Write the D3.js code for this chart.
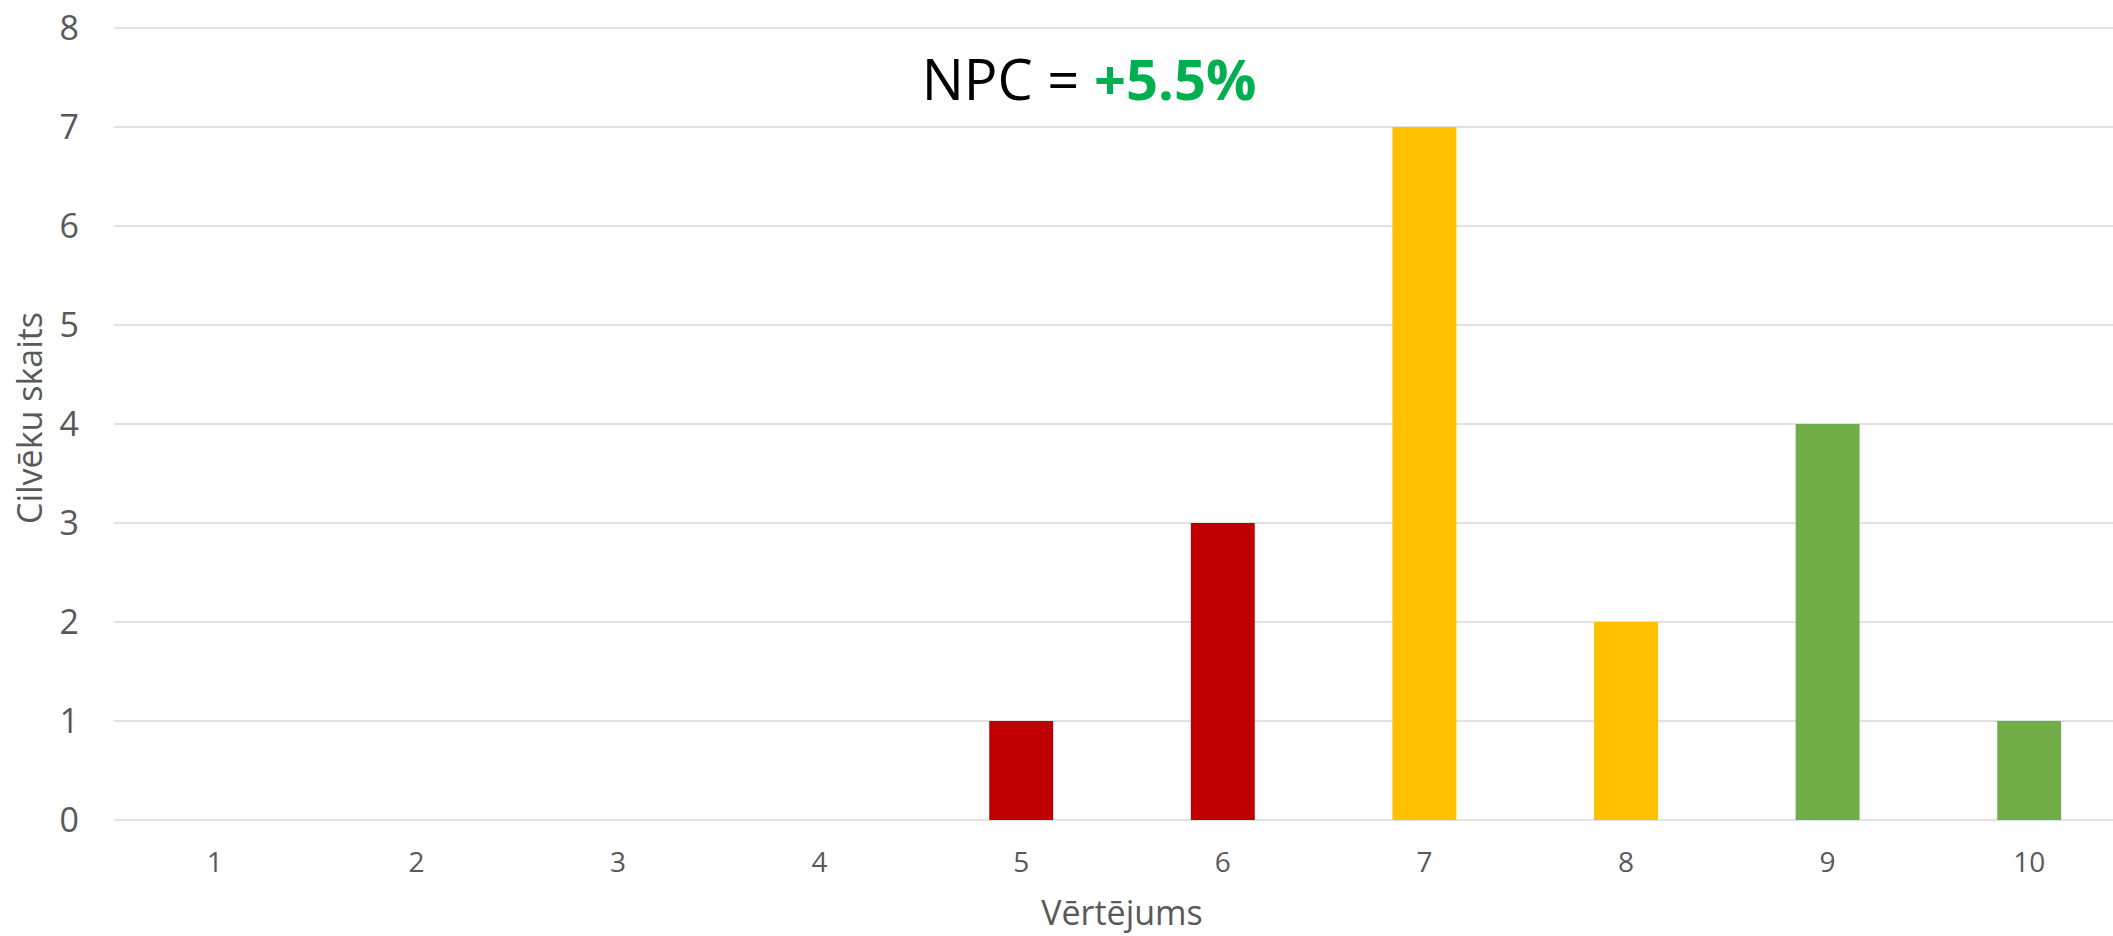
<!DOCTYPE html>
<html>
<head>
<meta charset="utf-8">
<script src="https://cdn.jsdelivr.net/npm/d3@7"></script>
<style>
  body { margin: 0; background: #fff; }
  svg { display: block; font-family: "Open Sans", "Liberation Sans", sans-serif; }
</style>
</head>
<body>
<svg id="chart" width="2113" height="936"></svg>
<script>
// chart data
const scores = ["1", "2", "3", "4", "5", "6", "7", "8", "9", "10"];
const counts = [0, 0, 0, 0, 1, 3, 7, 2, 4, 1];
const barColors = ["#C00000", "#C00000", "#C00000", "#C00000", "#C00000", "#C00000",
                   "#FFC000", "#FFC000", "#70AD47", "#70AD47"];
const yTicks = [0, 1, 2, 3, 4, 5, 6, 7, 8];
const npcLabel = "NPC = ";
const npcValue = "+5.5%";

const svg = d3.select("#chart"),
    width = +svg.attr("width"),
    height = +svg.attr("height");

// plot area (right side runs past the window, as in the original)
const plotLeft = 114, plotRight = 2130, plotTop = 28, plotBottom = 820;

const x = d3.scaleBand()
    .domain(scores)
    .range([plotLeft, plotRight])
    .padding(0);

const barW = x.bandwidth() * 0.317;

const y = d3.scaleLinear()
    .domain([0, 8])
    .range([plotBottom, plotTop]);

// gridlines
svg.append("g")
    .selectAll("line")
    .data(yTicks)
    .enter().append("line")
    .attr("x1", plotLeft)
    .attr("x2", plotRight)
    .attr("y1", d => y(d))
    .attr("y2", d => y(d))
    .style("stroke", "#D9D9D9")
    .style("stroke-width", "1.5px");

// bars
svg.append("g")
    .selectAll("rect")
    .data(counts)
    .enter().append("rect")
    .attr("x", (d, i) => x(scores[i]) + x.bandwidth() / 2 - barW / 2)
    .attr("width", barW)
    .attr("y", d => y(d))
    .attr("height", d => y(0) - y(d))
    .attr("fill", (d, i) => barColors[i]);

// y tick labels
svg.append("g")
    .selectAll("text")
    .data(yTicks)
    .enter().append("text")
    .attr("x", 79)
    .attr("y", d => y(d) + 12)
    .attr("text-anchor", "end")
    .attr("font-size", 34)
    .attr("fill", "#595959")
    .text(d => d);

// x tick labels
svg.append("g")
    .selectAll("text")
    .data(scores)
    .enter().append("text")
    .attr("x", d => x(d) + x.bandwidth() / 2)
    .attr("y", 872)
    .attr("text-anchor", "middle")
    .attr("font-size", 28)
    .attr("fill", "#595959")
    .text(d => d);

// axis titles
svg.append("text")
    .attr("x", 1122)
    .attr("y", 925)
    .attr("text-anchor", "middle")
    .attr("font-size", 34)
    .attr("fill", "#595959")
    .text("Vērtējums");

svg.append("text")
    .attr("transform", "translate(42,418) rotate(-90)")
    .attr("text-anchor", "middle")
    .attr("font-size", 34)
    .attr("fill", "#595959")
    .text("Cilvēku skaits");

// NPC headline
const title = svg.append("text")
    .attr("x", 1089)
    .attr("y", 100)
    .attr("text-anchor", "middle")
    .attr("font-size", 56);
title.append("tspan").attr("fill", "#000").text(npcLabel);
title.append("tspan").attr("fill", "#00B050").attr("font-weight", "bold").text(npcValue);
</script>
</body>
</html>
